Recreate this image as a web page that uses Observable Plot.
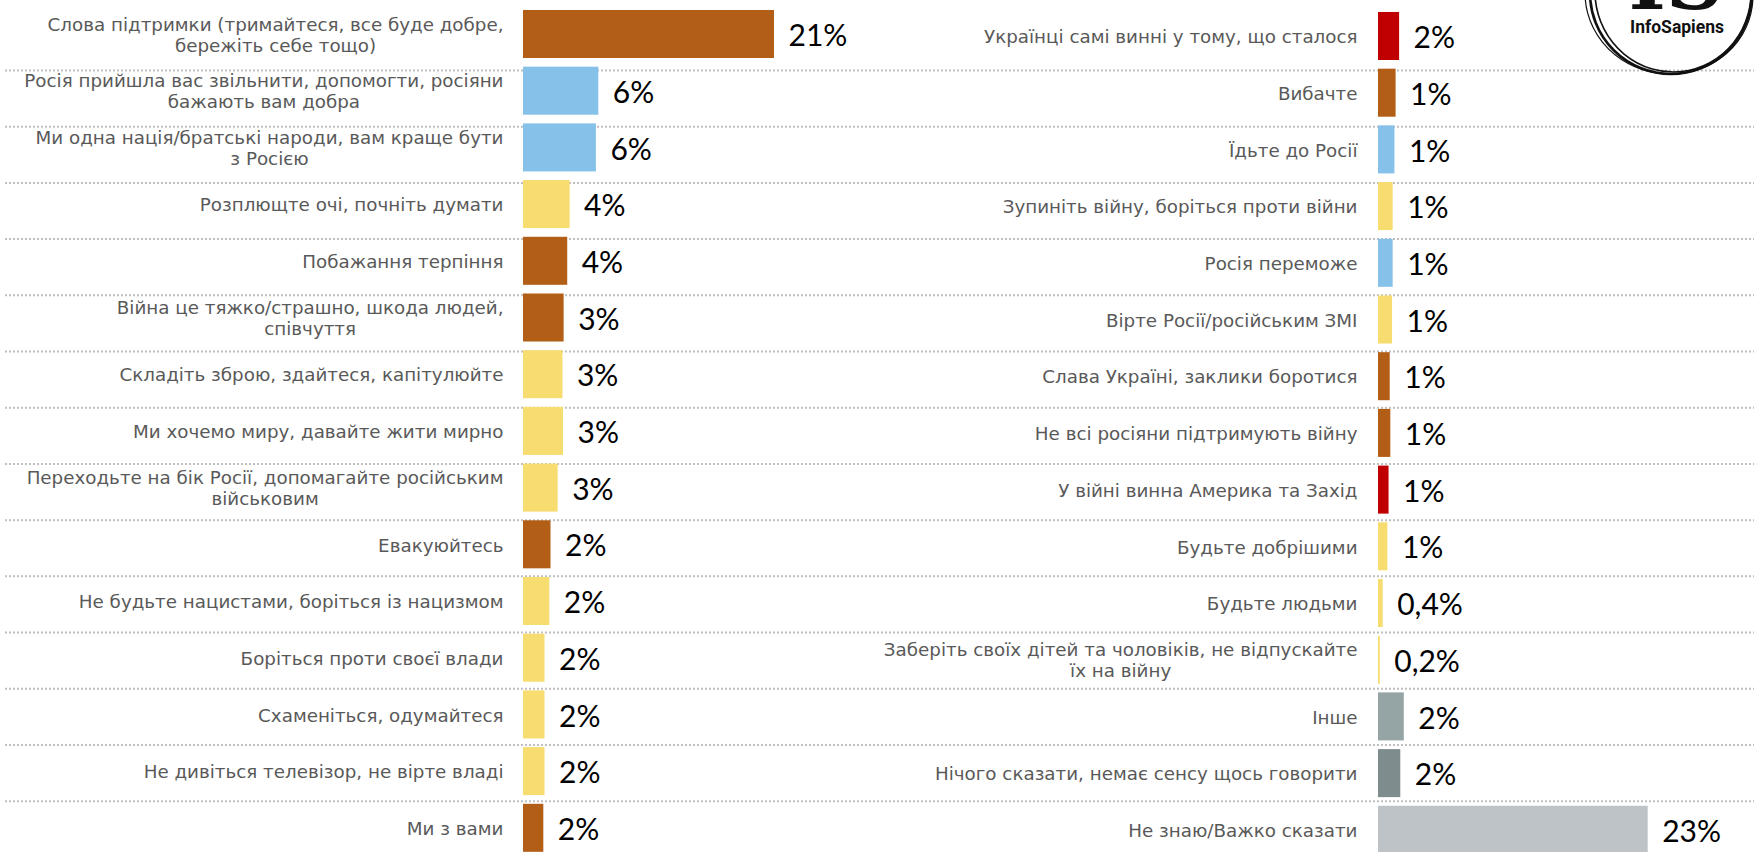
<!DOCTYPE html>
<html><head><meta charset="utf-8">
<script src="https://cdn.jsdelivr.net/npm/d3@7"></script>
<script src="https://cdn.jsdelivr.net/npm/@observablehq/plot@0.6"></script>
<style>
html,body{margin:0;padding:0;background:#fff;}
#chart{position:relative;width:1754px;height:852px;overflow:hidden;}
#chart > svg{position:absolute;top:0;}
</style></head><body><div id="chart"></div>
<script>
const leftLabels = [
  "Слова підтримки (тримайтеся, все буде добре,\nбережіть себе тощо)",
  "Росія прийшла вас звільнити, допомогти, росіяни\nбажають вам добра",
  "Ми одна нація/братські народи, вам краще бути\nз Росією",
  "Розплющте очі, почніть думати",
  "Побажання терпіння",
  "Війна це тяжко/страшно, шкода людей,\nспівчуття",
  "Складіть зброю, здайтеся, капітулюйте",
  "Ми хочемо миру, давайте жити мирно",
  "Переходьте на бік Росії, допомагайте російським\nвійськовим",
  "Евакуюйтесь",
  "Не будьте нацистами, боріться із нацизмом",
  "Боріться проти своєї влади",
  "Схаменіться, одумайтеся",
  "Не дивіться телевізор, не вірте владі",
  "Ми з вами"
];
const leftValues = [21, 6.3, 6.1, 3.9, 3.7, 3.4, 3.3, 3.35, 2.9, 2.3, 2.2, 1.8, 1.8, 1.8, 1.7];
const leftShown = ["21%","6%","6%","4%","4%","3%","3%","3%","3%","2%","2%","2%","2%","2%","2%"];
const leftGroups = ["support","russia","russia","appeal","support","support","appeal","appeal","appeal","support","appeal","appeal","appeal","appeal","support"];

const rightLabels = [
  "Українці самі винні у тому, що сталося",
  "Вибачте",
  "Їдьте до Росії",
  "Зупиніть війну, боріться проти війни",
  "Росія переможе",
  "Вірте Росії/російським ЗМІ",
  "Слава Україні, заклики боротися",
  "Не всі росіяни підтримують війну",
  "У війні винна Америка та Захід",
  "Будьте добрішими",
  "Будьте людьми",
  "Заберіть своїх дітей та чоловіків, не відпускайте\nїх на війну",
  "Інше",
  "Нічого сказати, немає сенсу щось говорити",
  "Не знаю/Важко сказати"
];
const rightValues = [1.8, 1.5, 1.4, 1.25, 1.25, 1.2, 1.0, 1.05, 0.9, 0.8, 0.4, 0.15, 2.2, 1.9, 23];
const rightShown = ["2%","1%","1%","1%","1%","1%","1%","1%","1%","1%","0,4%","0,2%","2%","2%","23%"];
const rightGroups = ["blame","support","russia","appeal","russia","appeal","support","support","blame","appeal","appeal","appeal","other","nothing","unknown"];

const groupNames = ["support","russia","appeal","blame","other","nothing","unknown"];
const groupColors = ["#B35E16","#85C1E9","#F7DC6F","#C00000","#95A5A6","#7F8C8D","#BDC3C7"];
const separatorIndex = [1,2,3,4,5,6,7,8,9,10,11,12,13,14];

const LABEL_FONT = "DejaVu Sans";
const LABEL_SIZE = 18.3;
const VALUE_FONT = "Lato";
const VALUE_SIZE = 30;
const COL_W = 877;

const ctx = document.createElement("canvas").getContext("2d");
function textWidth(str, family, size) {
  ctx.font = `${size}px "${family}"`;
  return Math.max(...str.split("\n").map(s => ctx.measureText(s).width));
}

function column({labels, values, shown, groups, xMax, marginLeft, marginRight, yRange, gap}) {
  const rows = labels.map((label, i) => ({label, value: values[i], shown: shown[i], group: groups[i]}));
  const pxPerUnit = (COL_W - marginLeft - marginRight) / xMax;
  return Plot.plot({
    width: COL_W, height: 852,
    marginLeft, marginRight, marginTop: 0, marginBottom: 0,
    x: {domain: [0, xMax], axis: null},
    y: {domain: labels, range: yRange, padding: 0.153, round: false, axis: null},
    color: {domain: groupNames, range: groupColors},
    style: {background: "transparent", overflow: "visible"},
    marks: [
      Plot.barX(rows, {x: "value", y: "label", fill: "group"}),
      Plot.text(rows, {
        x: d => -(gap + textWidth(d.label, LABEL_FONT, LABEL_SIZE) / 2) / pxPerUnit,
        y: "label", text: "label", textAnchor: "middle", lineAnchor: "middle",
        fontSize: LABEL_SIZE, fontFamily: LABEL_FONT, fill: "#595959", lineHeight: 1.15
      }),
      Plot.text(rows, {
        x: "value", y: "label", text: "shown", textAnchor: "start", dx: 14, dy: 2,
        fontSize: VALUE_SIZE, fontFamily: VALUE_FONT, fill: "#000"
      })
    ]
  });
}

const chart = document.getElementById("chart");

const sep = Plot.plot({
  width: 1754, height: 852, marginLeft: 5, marginRight: 0, marginTop: 0, marginBottom: 0,
  x: {axis: null},
  y: {domain: [1, 14], range: [70, 800.7], axis: null},
  style: {background: "transparent"},
  marks: [Plot.ruleY(separatorIndex, {y: d => d, stroke: "#BFBFBF", strokeWidth: 2, strokeDasharray: "2,2"})]
});
chart.appendChild(sep);

const left = column({labels: leftLabels, values: leftValues, shown: leftShown, groups: leftGroups,
  xMax: 21, marginLeft: 523, marginRight: 103, yRange: [1.3, 860.5], gap: 20});
left.style.left = "0px";
chart.appendChild(left);

const right = column({labels: rightLabels, values: rightValues, shown: rightShown, groups: rightGroups,
  xMax: 23, marginLeft: 501, marginRight: 106.3, yRange: [3.3, 862.5], gap: 21});
right.style.left = COL_W + "px";
chart.appendChild(right);

// logo
const ns = "http://www.w3.org/2000/svg";
const logo = document.createElementNS(ns, "svg");
logo.setAttribute("width", 1754); logo.setAttribute("height", 852);
logo.style.left = "0px";
logo.innerHTML = `
  <g fill="none" stroke="#111">
    <ellipse cx="1671" cy="-7" rx="81" ry="81" stroke-width="2.6"/>
    <ellipse cx="1673" cy="-8" rx="78" ry="80" stroke-width="1.6" transform="rotate(-6 1673 -8)"/>
    <ellipse cx="1669" cy="-5" rx="84" ry="79" stroke-width="1.2" transform="rotate(8 1669 -5)"/>
  </g>
  <text x="1676" y="9" text-anchor="middle" font-family="DejaVu Serif" font-weight="bold" font-size="80" fill="#111">IS</text>
  <text x="1677" y="33" text-anchor="middle" font-family="Roboto" font-weight="bold" font-size="17.5" fill="#111">InfoSapiens</text>`;
chart.appendChild(logo);
</script></body></html>
